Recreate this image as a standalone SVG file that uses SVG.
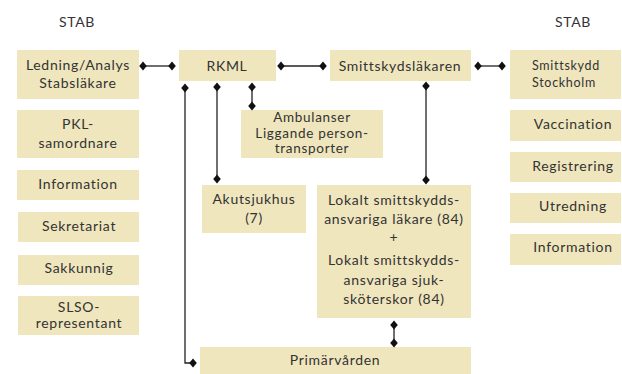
<svg xmlns="http://www.w3.org/2000/svg" width="622" height="374" viewBox="0 0 622 374">
<style>
.box{fill:#EFE6BD}
text{font-family:Lato,"Open Sans","DejaVu Sans",sans-serif;font-size:14px;fill:#333;text-anchor:middle;letter-spacing:0.7px}
.sm{font-size:12.5px;text-anchor:start}
.am{font-size:13.5px}
.ln{stroke:#222;stroke-width:1.3;fill:none}
.dm{fill:#111}
</style>
<defs>
<path id="d" d="M0,-4.5 L3.8,0 L0,4.5 L-3.8,0 Z" class="dm"/>
</defs>
<rect width="622" height="374" fill="#fff"/>
<text x="77" y="27">STAB</text>
<text x="573" y="27">STAB</text>

<g id="ledning"><rect class="box" x="17" y="50" width="122" height="49"/><text x="78" y="70">Ledning/Analys</text><text x="78" y="88">Stabsläkare</text></g>
<g id="pkl"><rect class="box" x="17" y="110" width="122" height="48"/><text x="78" y="129">PKL-</text><text x="78" y="148">samordnare</text></g>
<g id="information1"><rect class="box" x="17" y="170" width="122" height="30"/><text x="78" y="189">Information</text></g>
<g id="sekretariat"><rect class="box" x="18" y="212" width="121" height="30"/><text x="79" y="231">Sekretariat</text></g>
<g id="sakkunnig"><rect class="box" x="18" y="255" width="121" height="30"/><text x="79" y="273">Sakkunnig</text></g>
<g id="slso"><rect class="box" x="18" y="296" width="121" height="39"/><text x="79" y="312">SLSO-</text><text x="79" y="328">representant</text></g>

<g id="rkml"><rect class="box" x="179" y="50" width="97" height="31"/><text x="227" y="71">RKML</text></g>
<g id="smittskyddslakaren"><rect class="box" x="330" y="50" width="141" height="31"/><text x="400" y="71">Smittskydsläkaren</text></g>
<g id="ambulanser"><rect class="box" x="241" y="110" width="142" height="48"/><text class="am" x="312" y="122">Ambulanser</text><text class="am" x="312" y="138">Liggande person-</text><text class="am" x="312" y="153">transporter</text></g>
<g id="akutsjukhus"><rect class="box" x="202" y="185" width="104" height="48"/><text x="254" y="204">Akutsjukhus</text><text x="254" y="223">(7)</text></g>
<g id="lokalt"><rect class="box" x="317" y="185" width="154" height="133"/>
<text x="394" y="205">Lokalt smittskydds-</text><text x="394" y="224">ansvariga läkare (84)</text><text x="394" y="242">+</text><text x="394" y="265">Lokalt smittskydds-</text><text x="394" y="285">ansvariga sjuk-</text><text x="394" y="304">sköterskor (84)</text></g>
<g id="primarvarden"><rect class="box" x="200" y="347" width="271" height="27"/><text x="335" y="365">Primärvården</text></g>

<g id="stockholm"><rect class="box" x="510" y="50" width="111" height="49"/><text class="sm" x="532" y="70">Smittskydd</text><text class="sm" x="532" y="87">Stockholm</text></g>
<g id="vaccination"><rect class="box" x="510" y="110" width="111" height="31"/><text x="573" y="129">Vaccination</text></g>
<g id="registrering"><rect class="box" x="510" y="152" width="111" height="30"/><text x="573" y="171">Registrering</text></g>
<g id="utredning"><rect class="box" x="510" y="193" width="111" height="30"/><text x="573" y="211">Utredning</text></g>
<g id="information2"><rect class="box" x="510" y="234" width="111" height="31"/><text x="573" y="252">Information</text></g>

<g id="connectors">
<path class="ln" d="M143,66 H172"/><use href="#d" x="143" y="66"/><use href="#d" x="172" y="66"/>
<path class="ln" d="M281,66 H323"/><use href="#d" x="281" y="66"/><use href="#d" x="323" y="66"/>
<path class="ln" d="M478,66 H502"/><use href="#d" x="478" y="66"/><use href="#d" x="502" y="66"/>
<path class="ln" d="M185,88 V363 H193"/><use href="#d" x="185" y="88"/><use href="#d" x="193" y="363"/>
<path class="ln" d="M217,87 V179"/><use href="#d" x="217" y="87"/><use href="#d" x="217" y="179"/>
<path class="ln" d="M252,87 V106"/><use href="#d" x="252" y="87"/><use href="#d" x="252" y="106"/>
<path class="ln" d="M426,86 V180" stroke="#666"/><use href="#d" x="426" y="86"/><use href="#d" x="426" y="180"/>
<path class="ln" d="M394,325 V343"/><use href="#d" x="394" y="325"/><use href="#d" x="394" y="343"/>
</g>
</svg>
